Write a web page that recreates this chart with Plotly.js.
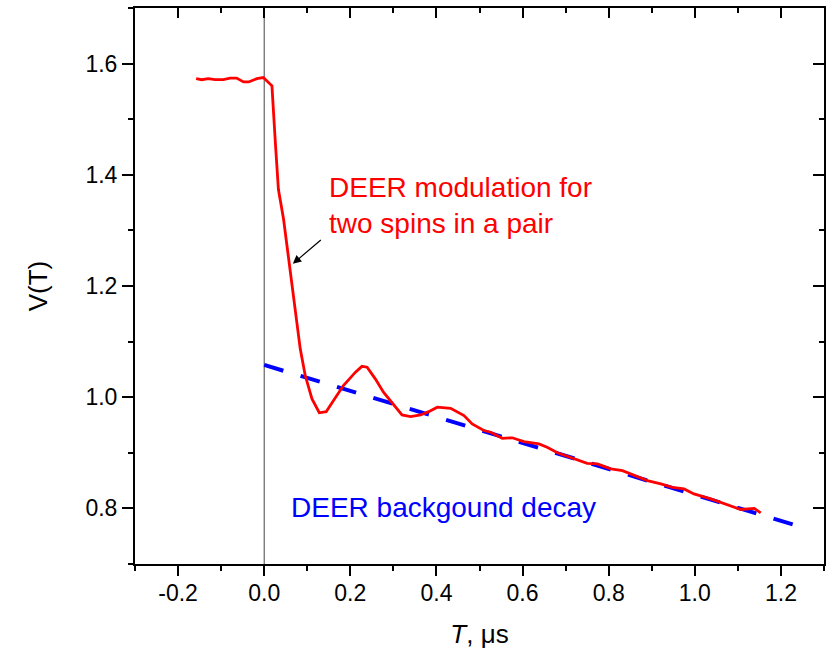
<!DOCTYPE html>
<html>
<head>
<meta charset="utf-8">
<script src="https://cdn.plot.ly/plotly-3.0.1.min.js"></script>
<style>html,body{margin:0;padding:0;background:#fff;}#chart{width:833px;height:655px;}</style>
</head>
<body>
<div id="chart"></div>
<script>
// DEER modulation (red)
const deerT = [-0.158,-0.145,-0.130,-0.114,-0.095,-0.079,-0.064,-0.048,-0.036,-0.017,-0.002,0.018,0.026,0.033,0.045,0.057,0.068,0.080,0.0837,0.0953,0.111,0.128,0.144,0.161,0.184,0.212,0.227,0.239,0.258,0.277,0.301,0.320,0.340,0.363,0.382,0.402,0.433,0.448,0.464,0.483,0.510,0.526,0.553,0.576,0.603,0.638,0.657,0.681,0.712,0.750,0.774,0.805,0.832,0.851,0.890,0.921,0.948,0.975,0.998,1.037,1.068,1.107,1.138,1.153];
const deerV = [1.573,1.571,1.573,1.571,1.571,1.574,1.574,1.567,1.567,1.573,1.575,1.560,1.457,1.374,1.320,1.248,1.185,1.104,1.087,1.039,0.997,0.972,0.974,0.994,1.021,1.045,1.0555,1.054,1.033,1.009,0.985,0.968,0.965,0.968,0.974,0.982,0.980,0.973,0.967,0.952,0.940,0.937,0.926,0.927,0.920,0.916,0.910,0.900,0.892,0.881,0.880,0.871,0.868,0.862,0.850,0.844,0.838,0.835,0.826,0.817,0.809,0.798,0.800,0.792];
// background decay (blue dashed)
const bgT = [0.0, 0.6, 1.237];
const bgV = [1.058, 0.918, 0.769];

const xTickVals = [-0.2,0.0,0.2,0.4,0.6,0.8,1.0,1.2];
const xTickText = ["-0.2","0.0","0.2","0.4","0.6","0.8","1.0","1.2"];
const yTickVals = [0.8,1.0,1.2,1.4,1.6];
const yTickText = ["0.8","1.0","1.2","1.4","1.6"];

const FONT = "Liberation Sans, Arial, Helvetica, sans-serif";

const traces = [
  {x: bgT, y: bgV, mode: 'lines', line: {color: '#0000ff', width: 4, dash: '20px,18px'}, hoverinfo: 'skip', showlegend: false},
  {x: deerT, y: deerV, mode: 'lines', line: {color: '#ff0000', width: 2.8}, hoverinfo: 'skip', showlegend: false},
  {x: [], y: [], xaxis: 'x2', yaxis: 'y2', showlegend: false, hoverinfo: 'skip'}
];

const layout = {
  width: 833, height: 655,
  margin: {l: 135, r: 9, t: 8, b: 91},
  paper_bgcolor: '#fff', plot_bgcolor: '#fff',
  font: {family: FONT, color: '#000'},
  xaxis: {
    range: [-0.3, 1.3], tickvals: xTickVals, ticktext: xTickText,
    ticks: 'outside', ticklen: 10, tickwidth: 2, tickcolor: '#000',
    minor: {dtick: 0.1, tick0: 0, ticks: 'outside', ticklen: 5, tickwidth: 2, tickcolor: '#000', showgrid: false},
    showline: true, linewidth: 2, linecolor: '#000', mirror: true,
    showgrid: false, zeroline: false,
    tickfont: {size: 23, family: FONT},
    ticklabelstandoff: -3,
    title: {text: '<i>T</i>, μs', font: {size: 26, family: FONT}, standoff: 20}
  },
  yaxis: {
    range: [0.7, 1.7], tickvals: yTickVals, ticktext: yTickText,
    ticks: 'outside', ticklen: 11, tickwidth: 2, tickcolor: '#000',
    minor: {dtick: 0.1, tick0: 0, ticks: 'outside', ticklen: 5, tickwidth: 2, tickcolor: '#000', showgrid: false},
    showline: true, linewidth: 2, linecolor: '#000', mirror: true,
    showgrid: false, zeroline: false,
    tickfont: {size: 23, family: FONT},
    title: {text: 'V(T)', font: {size: 26, family: FONT}, standoff: 30}
  },
  xaxis2: {
    overlaying: 'x', side: 'top', anchor: 'y2', matches: 'x',
    range: [-0.3, 1.3], tickvals: xTickVals, ticktext: xTickText, showticklabels: false,
    ticks: 'inside', ticklen: 10, tickwidth: 2, tickcolor: '#000',
    minor: {dtick: 0.1, tick0: 0, ticks: 'inside', ticklen: 5, tickwidth: 2, tickcolor: '#000', showgrid: false},
    showline: false, showgrid: false, zeroline: false
  },
  yaxis2: {
    overlaying: 'y', side: 'right', anchor: 'x2', matches: 'y',
    range: [0.7, 1.7], tickvals: yTickVals, ticktext: yTickText, showticklabels: false,
    ticks: 'inside', ticklen: 11, tickwidth: 2, tickcolor: '#000',
    minor: {dtick: 0.1, tick0: 0, ticks: 'inside', ticklen: 5, tickwidth: 2, tickcolor: '#000', showgrid: false},
    showline: false, showgrid: false, zeroline: false
  },
  shapes: [
    {type: 'line', xref: 'x', yref: 'paper', x0: 0, x1: 0, y0: 0, y1: 1, line: {color: '#444', width: 1}, layer: 'below'}
  ],
  annotations: [
    {x: 0.0665, y: 1.24, xref: 'x', yref: 'y', ax: 0.135, ay: 1.285, axref: 'x', ayref: 'y',
     showarrow: true, arrowhead: 2, arrowsize: 1.4, arrowwidth: 1.2, arrowcolor: '#000', text: ''},
    {x: 0.147, y: 1.345, xref: 'x', yref: 'y', xanchor: 'left', yanchor: 'middle', align: 'left', showarrow: false,
     text: 'DEER modulation for<br>two spins in a pair', font: {size: 28, color: '#ff0000', family: FONT}},
    {x: 0.058, y: 0.801, xref: 'x', yref: 'y', xanchor: 'left', yanchor: 'middle', align: 'left', showarrow: false,
     text: 'DEER backgound decay', font: {size: 28, color: '#0000ff', family: FONT}}
  ]
};

Plotly.newPlot('chart', traces, layout, {staticPlot: true, displayModeBar: false});
</script>
</body>
</html>
